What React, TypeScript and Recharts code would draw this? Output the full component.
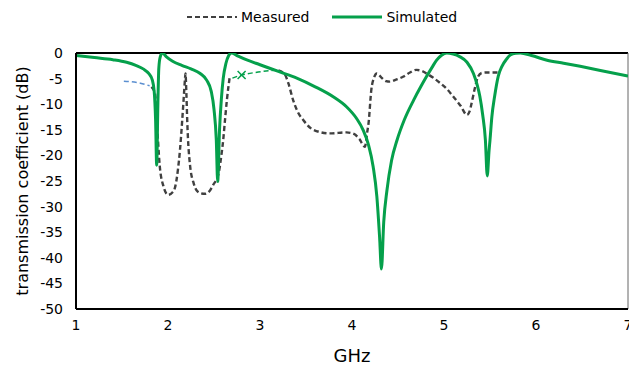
import React from "react";
import { LineChart, Line, XAxis, YAxis, ReferenceLine, Label } from "recharts";

const ghzTicks = [1, 2, 3, 4, 5, 6, 7];
const dbTicks = [0, -5, -10, -15, -20, -25, -30, -35, -40, -45, -50];

const simulatedGhz = [
  1.0, 1.2, 1.4, 1.55, 1.65, 1.73, 1.79, 1.83, 1.85, 1.865, 1.877, 1.89, 1.9, 1.915, 1.94,
  1.98, 2.05, 2.15, 2.25, 2.35, 2.42, 2.47, 2.5, 2.525, 2.54, 2.56, 2.58, 2.6, 2.63, 2.66,
  2.69, 2.75, 2.85, 3.0, 3.2, 3.4, 3.6, 3.8, 3.94, 4.05, 4.12, 4.18, 4.23, 4.27, 4.3, 4.32,
  4.345, 4.38, 4.43, 4.49, 4.57, 4.67, 4.75, 4.81, 4.87, 4.92, 4.97, 5.03, 5.1, 5.17, 5.25,
  5.32, 5.36, 5.39, 5.42, 5.45, 5.47, 5.49, 5.5, 5.52, 5.55, 5.59, 5.63, 5.68, 5.72, 5.78,
  5.83, 5.95, 6.12, 6.3, 6.48, 6.7, 7.0,
];
const simulatedDb = [
  -0.5, -0.9, -1.3, -1.8, -2.4, -3.1, -4.0, -5.3, -7.5, -13, -21.9, -10, -3, -0.8, 0,
  -0.7, -1.6, -2.4, -3.1, -4.0, -5.3, -7.5, -11, -17, -25.1, -15, -9, -5, -2, -0.5,
  0, -0.5, -1.3, -2.3, -3.6, -4.9, -6.6, -8.6, -10.5, -12.8, -15, -18, -22.2, -28, -36, -42.2,
  -33, -26.8, -21, -17, -13, -9.2, -6.5, -4.6, -2.8, -1.4, -0.5, 0, -0.2, -0.7, -1.8,
  -4.0, -6.2, -8.5, -12, -17, -24, -19, -17, -12.5, -8.5, -4.5, -2.6, -1.2, -0.4, -0.05,
  0, -0.5, -1.4, -2.0, -2.6, -3.4, -4.5,
];

const measuredGhz = [
  1.82, 1.86, 1.88, 1.91, 1.95, 2.0, 2.05, 2.08, 2.11, 2.13, 2.155, 2.17, 2.185, 2.19,
  2.2, 2.21, 2.24, 2.28, 2.31, 2.36, 2.4, 2.45, 2.49, 2.55, 2.58, 2.6, 2.62, 2.64, 2.67,
];
const measuredDb = [
  -6.6, -8, -13.7, -22, -26, -27.7, -27.2, -26, -22.5, -19, -13, -9, -5, -4,
  -8, -13.7, -22, -25.5, -26.8, -27.4, -27.5, -27, -25.8, -23.5, -20, -17, -13, -9.2, -4.8,
];
const measuredTailGhz = [
  3.2, 3.27, 3.31, 3.36, 3.41, 3.47, 3.58, 3.76, 3.94, 4.02, 4.08, 4.14, 4.165, 4.18, 4.21,
  4.24, 4.27, 4.32, 4.37, 4.41, 4.48, 4.56, 4.63, 4.7, 4.76, 4.81, 4.88, 4.96, 5.03, 5.1,
  5.18, 5.25, 5.28, 5.3, 5.34, 5.37, 5.41, 5.45, 5.52, 5.59,
];
const measuredTailDb = [
  -3.4, -4.2, -6, -9.2, -11.5, -13.1, -15, -15.7, -15.5, -15.8, -16.8, -18.3, -15.5, -13.7, -7.2,
  -4.8, -4, -4.8, -5.5, -5.6, -5.2, -4.6, -3.8, -3.3, -3.5, -4.0, -4.8, -5.9, -7, -8.5,
  -10.3, -12.1, -11.3, -9.8, -6.5, -4.6, -3.9, -3.8, -3.8, -3.8,
];

// stray coloured bits of the measured trace
const blueGhz = [1.52, 1.6, 1.7, 1.8];
const blueDb = [-5.5, -5.6, -5.9, -6.4];
const greenDashGhz = [2.7, 2.8, 2.95, 3.1, 3.2];
const greenDashDb = [-4.9, -4.3, -3.8, -3.45, -3.3];
const crossAt = 2.8;

const zip = (xs: number[], ys: number[]) => xs.map((ghz, i) => ({ ghz, db: ys[i] }));

const GREEN = "#05a04b";
const GREY = "#404040";
const BLUE = "#5b8fd0";

const CrossDot = (props: any) => {
  const { cx, cy, payload, index } = props;
  if (payload.ghz !== crossAt) return <g key={index} />;
  const s = 4;
  return (
    <path
      key={index}
      d={`M${cx - s},${cy - s}L${cx + s},${cy + s}M${cx - s},${cy + s}L${cx + s},${cy - s}`}
      stroke={GREEN}
      strokeWidth={1.5}
    />
  );
};

const tickStyle = { fill: "#000", fontSize: 14 };

export default function App() {
  return (
    <div style={{ position: "absolute", left: 0, top: 0, width: 629, height: 369, fontFamily: "DejaVu Sans", background: "#fff" }}>
      <div style={{ position: "absolute", top: 7, left: 187, display: "flex", alignItems: "center", fontSize: 14, color: "#000" }}>
        <svg width={52} height={20}>
          <line x1={0} y1={10} x2={50} y2={10} stroke={GREY} strokeWidth={2} strokeDasharray="5 3" />
        </svg>
        <span style={{ marginLeft: 2 }}>Measured</span>
        <svg width={52} height={20} style={{ marginLeft: 22 }}>
          <line x1={1} y1={10} x2={51} y2={10} stroke={GREEN} strokeWidth={3} />
        </svg>
        <span style={{ marginLeft: 3 }}>Simulated</span>
      </div>
      <LineChart width={629} height={369} margin={{ top: 53, right: 1, bottom: 0, left: 0 }} style={{ fontFamily: "DejaVu Sans" }}>
        <XAxis
          dataKey="ghz"
          type="number"
          domain={[1, 7]}
          ticks={ghzTicks}
          interval={0}
          allowDataOverflow
          height={60}
          tickLine={false}
          tickMargin={5}
          axisLine={{ stroke: "#000", strokeWidth: 2 }}
          tick={tickStyle}
        >
          <Label value="GHz" position="insideBottom" offset={7} style={{ fill: "#000", fontSize: 18 }} />
        </XAxis>
        <YAxis
          dataKey="db"
          type="number"
          domain={[-50, 0]}
          ticks={dbTicks}
          interval={0}
          allowDataOverflow
          width={76}
          tickLine={false}
          tickMargin={7}
          axisLine={{ stroke: "#000", strokeWidth: 2 }}
          tick={tickStyle}
        >
          <Label value="transmission coefficient (dB)" angle={-90} position="center" dx={-16} style={{ fill: "#000", fontSize: 16, textAnchor: "middle" }} />
        </YAxis>
        <ReferenceLine y={0} stroke="#000" strokeWidth={2} />
        <ReferenceLine x={7} stroke="#666" strokeWidth={1} />
        <Line data={zip(blueGhz, blueDb)} dataKey="db" type="monotone" stroke={BLUE} strokeWidth={1.5} strokeDasharray="5 3" dot={false} activeDot={false} isAnimationActive={false} />
        <Line data={zip(measuredGhz, measuredDb)} dataKey="db" type="monotone" stroke={GREY} strokeWidth={2.4} strokeDasharray="5 3" dot={false} activeDot={false} isAnimationActive={false} />
        <Line data={zip(greenDashGhz, greenDashDb)} dataKey="db" type="monotone" stroke={GREEN} strokeWidth={1.5} strokeDasharray="5 3" dot={CrossDot} activeDot={false} isAnimationActive={false} />
        <Line data={zip(measuredTailGhz, measuredTailDb)} dataKey="db" type="monotone" stroke={GREY} strokeWidth={2.4} strokeDasharray="5 3" dot={false} activeDot={false} isAnimationActive={false} />
        <Line data={zip(simulatedGhz, simulatedDb)} dataKey="db" type="monotone" stroke={GREEN} strokeWidth={3} dot={false} activeDot={false} isAnimationActive={false} />
      </LineChart>
    </div>
  );
}
